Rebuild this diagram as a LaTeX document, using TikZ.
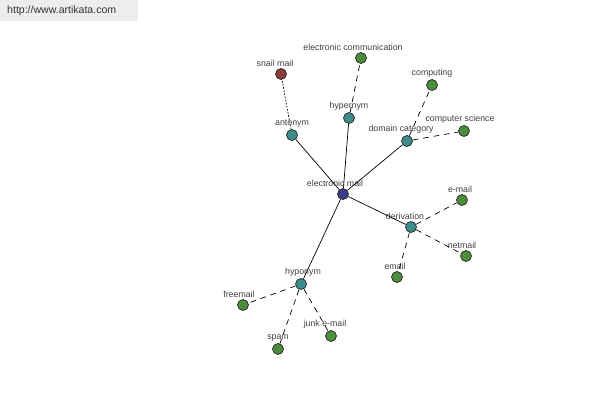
\documentclass[tikz,border=0pt]{standalone}
\usepackage{fontspec}
\setmainfont{Liberation Sans}
\usetikzlibrary{positioning}
\definecolor{rootblue}{HTML}{3C3C8C}
\definecolor{relteal}{HTML}{3C8C8C}
\definecolor{leafgreen}{HTML}{4C8C3C}
\definecolor{leafred}{HTML}{8C3C3C}

\begin{document}
\begin{tikzpicture}[
    x = 0.2mm, y = -0.2mm,
    word/.style = {circle, draw=black!85, line width=0.4pt, inner sep=0pt, minimum size=2.2mm},
    root/.style = {word, fill=rootblue},
    rel/.style = {word, fill=relteal},
    leaf/.style = {word, fill=leafgreen},
    anti/.style = {word, fill=leafred},
    solidline/.style = {black, line width=0.4pt},
    dashline/.style = {black, line width=0.4pt, dash pattern=on 3.2pt off 2.8pt},
    dotline/.style = {black, line width=0.4pt, dash pattern=on 0.9pt off 0.9pt},
    every label/.style = {text=black!75, inner sep=0.6pt, font=\fontsize{5}{6}\selectfont},
    label distance = 0pt
    ]

  % header
  \useasboundingbox (0,0) rectangle (600,400);
  \fill[black!7] (0,0) rectangle (138,21);
  \node[text=black!80, font=\fontsize{6}{7}\selectfont, anchor=west] (site) at (1,11) {http://www.artikata.com};

  \node[root] (email) at (343,194) [label={[xshift=-1.6mm]above:electronic mail}] {};

  \node[rel] (antonym) at (292,135) [label=above:antonym] {};
  \node[anti] (snail) at (281,74) [label={[xshift=-1.2mm]above:snail mail}] {};

  \node[rel] (hypernym) at (349,118) [label=above:hypernym] {};
  \node[leaf] (ecomm) at (361,58) [label={[xshift=-1.6mm]above:electronic communication}] {};

  \node[rel] (domain) at (407,141) [label={[xshift=-1.2mm]above:domain category}] {};
  \node[leaf] (computing) at (432,85) [label=above:computing] {};
  \node[leaf] (cs) at (464,131) [label={[xshift=-0.8mm]above:computer science}] {};

  \node[rel] (deriv) at (411,227) [label={[xshift=-1.2mm]above:derivation}] {};
  \node[leaf] (emailb) at (462,200) [label={[xshift=-0.4mm]above:e-mail}] {};
  \node[leaf] (netmail) at (466,256) [label={[xshift=-0.8mm]above:netmail}] {};
  \node[leaf] (emailc) at (397,277) [label={[xshift=-0.4mm]above:email}] {};

  \node[rel] (hyponym) at (301,284) [label={[xshift=0.4mm]above:hyponym}] {};
  \node[leaf] (freemail) at (243,305) [label={[xshift=-0.8mm]above:freemail}] {};
  \node[leaf] (spam) at (278,349) [label=above:spam] {};
  \node[leaf] (junk) at (331,336) [label={[xshift=-1.2mm]above:junk e-mail}] {};

  \draw[solidline]
  (email) edge (antonym)
  (email) edge (hypernym)
  (email) edge (domain)
  (email) edge (deriv)
  (email) edge (hyponym);

  \draw[dotline] (antonym) -- (snail);

  \draw[dashline]
  (hypernym) edge (ecomm)
  (domain) edge (computing)
  (domain) edge (cs)
  (deriv) edge (emailb)
  (deriv) edge (netmail)
  (deriv) edge (emailc)
  (hyponym) edge (freemail)
  (hyponym) edge (spam)
  (hyponym) edge (junk);
\end{tikzpicture}
\end{document}
